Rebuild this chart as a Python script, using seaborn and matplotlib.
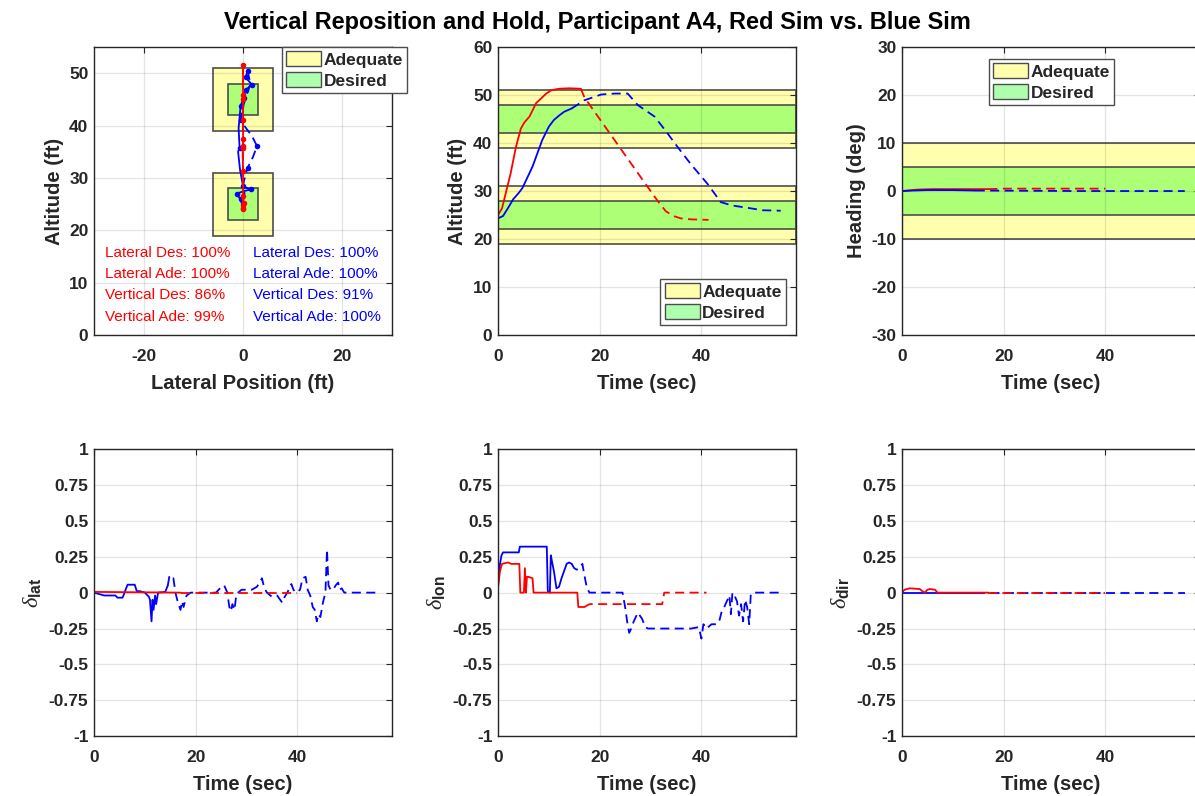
import matplotlib
matplotlib.use('Agg')
import matplotlib.pyplot as plt
import matplotlib.patches as mpatches
import seaborn as sns

# ---- data ----
# lateral position vs altitude (top left)
blue_up_lat = [0.0, -0.5, -1.3, 0.2, 1.6, 0.0, -0.6, -1.0, -0.7, -0.9, -0.5, 0.1, 0.5, 1.8, 0.5, 0.9]
blue_up_alt = [24.3, 25.9, 27.0, 27.5, 27.8, 28.4, 31.5, 35.0, 35.8, 39.5, 43.7, 45.3, 46.8, 47.8, 49.2, 50.4]
blue_dn_lat = [0.9, 1.5, 0.6, -0.2, -0.5, 0.6, 1.8, 2.8, 2.0, 0.9, 0.2, 0.0, 0.3, -0.2]
blue_dn_alt = [50.4, 48.0, 45.5, 43.0, 41.0, 39.5, 38.0, 36.1, 34.0, 31.9, 29.5, 28.4, 27.0, 26.0]
red_up_lat = [0.0, 0.0, 0.0, 0.1, 0.0, 0.0, -0.1, 0.0, 0.0, 0.0, 0.0, 0.0, 0.0]
red_up_alt = [24.0, 24.3, 24.8, 25.2, 26.6, 31.3, 35.8, 36.1, 37.4, 41.1, 45.1, 45.8, 51.5]
red_dn_lat = [0.0, 0.0, 0.0, 0.0, 0.0]
red_dn_alt = [51.5, 45.0, 36.0, 28.0, 24.0]

lat_stats = ['Lateral Des: 100%', 'Lateral Ade: 100%', 'Vertical Des: 86%', 'Vertical Ade: 99%']
lat_stats_blue = ['Lateral Des: 100%', 'Lateral Ade: 100%', 'Vertical Des: 91%', 'Vertical Ade: 100%']

# altitude vs time
red_alt_t = [0, 0.8, 2.5, 3.5, 4.5, 5.2, 6.2, 7.5, 8.5, 9.5, 10.5, 12, 14, 16.3]
red_alt = [25, 26.4, 33.7, 39, 43, 44.3, 45.5, 48.3, 49.3, 50.3, 51, 51.3, 51.4, 51.3]
red_alt_t2 = [16.3, 17, 20, 23, 26, 29, 31.5, 33, 34.5, 36, 38, 41.4]
red_alt2 = [51.3, 49.5, 45, 40.5, 36, 31.5, 27.8, 25.8, 24.8, 24.3, 24.1, 24.0]
blue_alt_t = [0, 1, 2, 3, 4, 4.8, 6.8, 8.7, 10, 11, 12, 13, 14.5]
blue_alt = [24.3, 24.8, 26.5, 28.3, 29.5, 30.6, 35.1, 40.6, 43.4, 44.8, 45.7, 46.5, 47.2]
blue_alt_t2 = [14.5, 17, 20.3, 23, 25.5, 27.5, 30.8, 33, 35.3, 38, 41.2, 43.8, 46, 49.7, 52, 55.6]
blue_alt2 = [47.2, 48.9, 50.1, 50.3, 50.3, 47.9, 45.5, 42.5, 39.2, 35.5, 31.5, 27.7, 27.0, 26.4, 26.0, 25.9]

# heading vs time
red_hdg_t = [0, 1, 3, 6, 10, 17]
red_hdg = [0, 0.1, 0.3, 0.4, 0.4, 0.4]
red_hdg_t2 = [17, 20, 25, 30, 35, 40]
red_hdg2 = [0.4, 0.5, 0.5, 0.5, 0.5, 0.5]
blue_hdg_t = [0, 2, 5, 10, 14.5]
blue_hdg = [0, 0.1, 0.2, 0.2, 0.1]
blue_hdg_t2 = [14.5, 25, 35, 45, 55.6]
blue_hdg2 = [0.1, 0.05, 0.0, 0.0, 0.0]

# lateral stick
red_lat_t = [0, 17]
red_lat = [0.005, 0.0]
red_lat_t2 = [17, 40]
red_lat2 = [0.0, 0.0]
blue_lat_t = [0, 1, 2, 4.2, 4.6, 5.6, 5.9, 6.3, 6.6, 8.0, 8.4, 9.0, 10.0, 10.8, 11.0, 11.3, 11.5,
              11.7, 12.0, 12.2, 12.6, 14.0, 14.5]
blue_lat = [0, -0.01, -0.02, -0.02, -0.035, -0.035, -0.01, 0.03, 0.055, 0.055, 0.01, 0.01, 0.0, -0.03,
            -0.05, -0.2, -0.05, -0.12, -0.02, -0.08, 0.0, 0.005, 0.05]
blue_lat_t2 = [14.5, 14.8, 15.2, 15.6, 16.0, 16.5, 17.0, 17.3, 17.6, 18.2, 19, 24, 25, 25.6, 26.2, 26.6,
               26.9, 27.2, 27.6, 28, 29, 31, 32, 32.6, 33, 33.5, 34, 35, 36, 37, 37.3, 38, 38.8, 39.2,
               39.8, 40.5, 41, 41.6, 42, 42.5, 43, 43.4, 43.8, 44.1, 44.5, 45, 45.5, 45.8, 46.1, 46.5,
               47, 47.5, 48, 48.3, 48.7, 49.2, 50, 55.6]
blue_lat2 = [0.05, 0.11, 0.09, 0.1, 0.0, -0.07, -0.12, -0.06, -0.1, -0.02, 0.0, 0.0, 0.04, 0.05, 0.0,
             -0.1, -0.13, -0.08, -0.12, -0.01, 0.02, 0.02, 0.04, 0.07, 0.1, 0.03, 0.0, -0.03, -0.02,
             -0.07, -0.04, 0.0, 0.06, 0.02, 0.0, 0.02, 0.1, 0.11, 0.02, -0.02, -0.1, -0.12, -0.2, -0.15,
             -0.17, -0.07, 0.0, 0.3, 0.05, 0.02, 0.02, 0.05, 0.07, 0.02, 0.03, 0.0, 0.0, 0.0]

# longitudinal stick
red_lon_t = [0, 0.4, 0.8, 2.0, 2.6, 4.2, 4.4, 5.1, 5.3, 5.5, 5.7, 6.0, 6.8, 7.0, 15.6, 15.8, 17.0]
red_lon = [0.03, 0.15, 0.2, 0.21, 0.2, 0.2, 0.0, 0.0, 0.17, 0.0, 0.11, 0.11, 0.1, 0.0, 0.0, -0.1, -0.1]
red_lon_t2 = [17.0, 18.0, 32.3, 32.7, 41.0]
red_lon2 = [-0.1, -0.08, -0.08, 0.0, 0.0]
blue_lon_t = [0, 0.4, 0.7, 1.0, 4.1, 4.3, 9.6, 9.8, 10.2, 10.4, 10.6, 11.0, 11.5, 12.0, 12.5, 13.0,
              13.5, 14.0, 14.5]
blue_lon = [0.05, 0.2, 0.26, 0.28, 0.28, 0.32, 0.32, 0.01, 0.0, 0.26, 0.22, 0.15, 0.03, 0.04, 0.1,
            0.15, 0.2, 0.21, 0.2]
blue_lon_t2 = [14.5, 15.0, 15.5, 16.0, 16.6, 17.0, 17.5, 18.0, 24.5, 25.0, 25.4, 25.8, 26.2, 26.7,
               27.5, 28.3, 29.0, 29.5, 32, 35, 38, 39.5, 40.0, 40.4, 41, 42, 43, 43.5, 44, 44.5, 45,
               45.5, 45.8, 46.1, 46.5, 47, 47.4, 47.8, 48.2, 48.6, 49.0, 49.4, 49.7, 50.0, 55.7]
blue_lon2 = [0.2, 0.17, 0.16, 0.17, 0.2, 0.12, 0.03, 0.0, 0.0, -0.1, -0.2, -0.28, -0.25, -0.2, -0.14,
             -0.18, -0.24, -0.25, -0.25, -0.25, -0.25, -0.24, -0.32, -0.22, -0.25, -0.22, -0.22, -0.2,
             -0.13, -0.1, -0.06, -0.02, -0.15, 0.0, -0.02, -0.06, -0.16, -0.08, -0.2, -0.05, -0.1,
             -0.22, -0.02, 0.0, 0.0]

# pedals
red_dir_t = [0, 0.5, 1.5, 3.5, 4.0, 4.5, 5.0, 5.5, 6.5, 7.0, 17]
red_dir = [0, 0.02, 0.03, 0.025, 0.01, 0.0, 0.02, 0.025, 0.02, 0.0, 0.0]
red_dir_t2 = [17, 40]
red_dir2 = [0.0, 0.0]
blue_dir_t = [0, 14.5]
blue_dir = [0.0, 0.0]
blue_dir_t2 = [14.5, 55.6]
blue_dir2 = [0.0, 0.0]

# tolerance bands (lo, hi)
alt_ade = [(39, 51), (19, 31)]
alt_des = [(42, 48), (22, 28)]
hdg_ade = (-10, 10)
hdg_des = (-5, 5)
lat_ade = (-6, 6)
lat_des = (-3, 3)

stick_ticks = [-1, -0.75, -0.5, -0.25, 0, 0.25, 0.5, 0.75, 1]
stick_labels = ['-1', '-0.75', '-0.5', '-0.25', '0', '0.25', '0.5', '0.75', '1']

# ---- style ----
sns.set_theme(style='whitegrid')
plt.rcParams['font.family'] = ['Liberation Sans', 'DejaVu Sans']
plt.rcParams['axes.unicode_minus'] = False
plt.rcParams['mathtext.fontset'] = 'custom'
plt.rcParams['mathtext.rm'] = 'Liberation Sans'
plt.rcParams['mathtext.it'] = 'Liberation Serif:italic'
plt.rcParams['mathtext.bf'] = 'Liberation Sans:bold'

ADE = (1.0, 1.0, 0.0, 0.32)
DES = (0.0, 1.0, 0.0, 0.32)
EDGE = '0.3'
TXT = '0.15'
LAB = 14.5
dash = (0, (5, 3))

fig = plt.figure(figsize=(11.95, 7.96), dpi=100)
W, H = 0.2494, 0.362
xs = [0.0787, 0.4167, 0.7548]
ax_pos = fig.add_axes([xs[0], 0.579, W, H])
ax_alt = fig.add_axes([xs[1], 0.579, W, H])
ax_hdg = fig.add_axes([xs[2], 0.579, W, H])
ax_lat = fig.add_axes([xs[0], 0.075, W, 0.361])
ax_lon = fig.add_axes([xs[1], 0.075, W, 0.361])
ax_dir = fig.add_axes([xs[2], 0.075, W, 0.361])


def style(ax):
    ax.set_facecolor('white')
    ax.set_axisbelow('line')
    ax.grid(True, color='0.15', alpha=0.12, linewidth=0.9)
    for s in ax.spines.values():
        s.set_color(TXT)
        s.set_linewidth(1.0)
    ax.tick_params(direction='in', length=4, width=0.8, color=TXT, labelcolor=TXT,
                   labelsize=12.5, top=True, right=True)
    ax.tick_params(axis='x', pad=10)
    ax.tick_params(axis='y', pad=4)
    for lab in ax.get_xticklabels() + ax.get_yticklabels():
        lab.set_fontweight('bold')


def labels(ax, xl, yl, ysize=LAB, yweight='bold'):
    ax.set_xlabel(xl, fontsize=LAB, fontweight='bold', color=TXT, labelpad=7)
    ax.set_ylabel(yl, fontsize=ysize, fontweight=yweight, color=TXT, labelpad=4)


def band_legend(ax, **kw):
    h = [mpatches.Patch(facecolor=ADE, edgecolor=EDGE, label='Adequate'),
         mpatches.Patch(facecolor=DES, edgecolor=EDGE, label='Desired')]
    leg = ax.legend(handles=h, fancybox=False, framealpha=1, edgecolor=EDGE,
                    prop={'weight': 'bold', 'size': 12.5}, handlelength=2.0, handleheight=0.95,
                    handletextpad=0.15, borderpad=0.25, labelspacing=0.25, borderaxespad=0, **kw)
    leg.get_frame().set_linewidth(1.0)
    for t in leg.get_texts():
        t.set_color(TXT)


def tline(ax, t, v, color, ls='-'):
    sns.lineplot(x=t, y=v, ax=ax, color=color, linewidth=1.3, linestyle=ls,
                 estimator=None, sort=False)


# ---- top left: lateral position vs altitude ----
for (lo, hi), (dlo, dhi) in zip(alt_ade, alt_des):
    ax_pos.add_patch(mpatches.Rectangle((lat_ade[0], lo), lat_ade[1] - lat_ade[0], hi - lo,
                                        facecolor=ADE, edgecolor=EDGE, linewidth=1.2))
    ax_pos.add_patch(mpatches.Rectangle((lat_des[0], dlo), lat_des[1] - lat_des[0], dhi - dlo,
                                        facecolor=DES, edgecolor=EDGE, linewidth=1.2))
sns.lineplot(x=blue_up_lat, y=blue_up_alt, ax=ax_pos, color='blue', linewidth=1.3, estimator=None,
             sort=False, marker='o', markersize=4, markeredgewidth=0,
             markevery=[1, 2, 4, 5, 8, 10, 11, 12, 13, 14, 15])
sns.lineplot(x=blue_dn_lat, y=blue_dn_alt, ax=ax_pos, color='blue', linewidth=1.3, estimator=None,
             sort=False, linestyle=dash, marker='o', markersize=4, markeredgewidth=0,
             markevery=[4, 7, 9])
sns.lineplot(x=red_dn_lat, y=red_dn_alt, ax=ax_pos, color='red', linewidth=1.3, estimator=None,
             sort=False, linestyle=dash)
sns.lineplot(x=red_up_lat, y=red_up_alt, ax=ax_pos, color='red', linewidth=1.3, estimator=None,
             sort=False, marker='o', markersize=4, markeredgewidth=0)
for i, (r, b) in enumerate(zip(lat_stats, lat_stats_blue)):
    y = 15.7 - 4.05 * i
    ax_pos.text(-27.8, y, r, color='red', fontsize=11, va='center', ha='left')
    ax_pos.text(2.0, y, b, color='blue', fontsize=11, va='center', ha='left')
ax_pos.set_xlim(-30, 30)
ax_pos.set_ylim(0, 55)
ax_pos.set_xticks([-20, 0, 20])
ax_pos.set_yticks([0, 10, 20, 30, 40, 50])
labels(ax_pos, 'Lateral Position (ft)', 'Altitude (ft)')
band_legend(ax_pos, loc='upper left', bbox_to_anchor=(0.631, 1.0))
style(ax_pos)

# ---- top middle: altitude vs time ----
for (lo, hi), (dlo, dhi) in zip(alt_ade, alt_des):
    ax_alt.axhspan(lo, hi, facecolor=ADE, edgecolor=EDGE, linewidth=1.2)
    ax_alt.axhspan(dlo, dhi, facecolor=DES, edgecolor=EDGE, linewidth=1.2)
tline(ax_alt, red_alt_t, red_alt, 'red')
tline(ax_alt, red_alt_t2, red_alt2, 'red', dash)
tline(ax_alt, blue_alt_t, blue_alt, 'blue')
tline(ax_alt, blue_alt_t2, blue_alt2, 'blue', dash)
ax_alt.set_xlim(0, 58.6)
ax_alt.set_ylim(0, 60)
ax_alt.set_xticks([0, 20, 40])
ax_alt.set_yticks([0, 10, 20, 30, 40, 50, 60])
labels(ax_alt, 'Time (sec)', 'Altitude (ft)')
band_legend(ax_alt, loc='lower right', bbox_to_anchor=(0.966, 0.035))
style(ax_alt)

# ---- top right: heading vs time ----
ax_hdg.axhspan(*hdg_ade, facecolor=ADE, edgecolor=EDGE, linewidth=1.2)
ax_hdg.axhspan(*hdg_des, facecolor=DES, edgecolor=EDGE, linewidth=1.2)
tline(ax_hdg, red_hdg_t, red_hdg, 'red')
tline(ax_hdg, red_hdg_t2, red_hdg2, 'red', dash)
tline(ax_hdg, blue_hdg_t, blue_hdg, 'blue')
tline(ax_hdg, blue_hdg_t2, blue_hdg2, 'blue', dash)
ax_hdg.set_xlim(0, 58.6)
ax_hdg.set_ylim(-30, 30)
ax_hdg.set_xticks([0, 20, 40])
ax_hdg.set_yticks([-30, -20, -10, 0, 10, 20, 30])
labels(ax_hdg, 'Time (sec)', 'Heading (deg)')
band_legend(ax_hdg, loc='upper left', bbox_to_anchor=(0.292, 0.958))
style(ax_hdg)

# ---- bottom row: stick inputs ----
sticks = [
    (ax_lat, 'lat', red_lat_t, red_lat, red_lat_t2, red_lat2, blue_lat_t, blue_lat, blue_lat_t2, blue_lat2),
    (ax_lon, 'lon', red_lon_t, red_lon, red_lon_t2, red_lon2, blue_lon_t, blue_lon, blue_lon_t2, blue_lon2),
    (ax_dir, 'dir', red_dir_t, red_dir, red_dir_t2, red_dir2, blue_dir_t, blue_dir, blue_dir_t2, blue_dir2),
]
for ax, name, rt, rv, rt2, rv2, bt, bv, bt2, bv2 in sticks:
    tline(ax, bt, bv, 'blue')
    tline(ax, bt2, bv2, 'blue', dash)
    tline(ax, rt, rv, 'red')
    tline(ax, rt2, rv2, 'red', dash)
    ax.set_xlim(0, 58.6)
    ax.set_ylim(-1, 1)
    ax.set_xticks([0, 20, 40])
    ax.set_yticks(stick_ticks)
    ax.set_yticklabels(stick_labels)
    labels(ax, 'Time (sec)', r'$\delta_{\mathbf{' + name + '}}$', ysize=16, yweight='normal')
    style(ax)

fig.suptitle('Vertical Reposition and Hold, Participant A4, Red Sim vs. Blue Sim',
             fontsize=17, fontweight='bold', color='black', y=0.986)
fig.savefig('out.png', dpi=100)
